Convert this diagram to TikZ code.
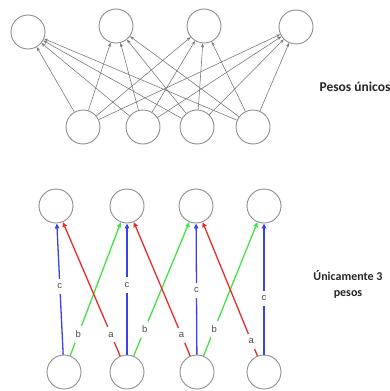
\documentclass[tikz,border=0pt]{standalone}
\usepackage{fontspec}
\newfontfamily\notefont{Carlito}
\newfontfamily\lblfont{Liberation Sans}
\usetikzlibrary{arrows.meta}
\definecolor{neuron}{RGB}{140,140,140}
\definecolor{wire}{RGB}{115,115,115}
\definecolor{wblue}{RGB}{60,65,230}
\definecolor{wred}{RGB}{230,45,45}
\definecolor{wgreen}{RGB}{70,225,70}
\definecolor{lbltext}{RGB}{75,75,75}
\tikzset{
  neuronnode/.style={circle,draw=neuron,line width=0.9pt,minimum size=34pt,inner sep=0pt},
  fullwire/.style={draw=wire,line width=0.55pt,-{Stealth[length=4pt,width=3pt]}},
  sharedwire/.style={line width=1.3pt,-{Triangle[length=5pt,width=4.5pt]}},
  weightlbl/.style={fill=white,text=lbltext,font=\lblfont\fontsize{9.5}{10}\selectfont,inner xsep=1pt,inner ysep=5pt},
  note/.style={font=\notefont\bfseries\selectfont,align=center,text=black!85}
}
\begin{document}
\begin{tikzpicture}[x=1pt,y=-1pt]
\useasboundingbox (0,0) rectangle (390,391);

% fully connected layer
\node[neuronnode] (u1) at (28,32) {};
\node[neuronnode] (u2) at (116,26) {};
\node[neuronnode] (u3) at (204,26) {};
\node[neuronnode] (u4) at (296,27) {};
\node[neuronnode] (l1) at (83,127) {};
\node[neuronnode] (l2) at (143,127) {};
\node[neuronnode] (l3) at (197,127) {};
\node[neuronnode] (l4) at (253,127) {};
\foreach \s in {1,2,3,4}{
  \foreach \t in {1,2,3,4}{
    \draw[fullwire] (l\s) -- (u\t);
  }
}
\node[note,anchor=west,font=\notefont\bfseries\fontsize{13.5}{16}\selectfont] (n1) at (316,87) {Pesos únicos};

% layer with three shared weights
\node[neuronnode] (v1) at (56,206) {};
\node[neuronnode] (v2) at (127,206) {};
\node[neuronnode] (v3) at (196,206) {};
\node[neuronnode] (v4) at (264,206) {};
\node[neuronnode] (w1) at (64,372) {};
\node[neuronnode] (w2) at (127,372) {};
\node[neuronnode] (w3) at (197,372) {};
\node[neuronnode] (w4) at (264,372) {};

\draw[sharedwire,wgreen] (w1) -- node[weightlbl,pos=0.16] {b} (v2);
\draw[sharedwire,wgreen] (w2) -- node[weightlbl,pos=0.2] {b} (v3);
\draw[sharedwire,wgreen] (w3) -- node[weightlbl,pos=0.2] {b} (v4);
\draw[sharedwire,wred] (w2) -- node[weightlbl,pos=0.16] {a} (v1);
\draw[sharedwire,wred] (w3) -- node[weightlbl,pos=0.155] {a} (v2);
\draw[sharedwire,wred] (w4) -- node[weightlbl,pos=0.11] {a} (v3);
\draw[sharedwire,wblue] (w1) -- node[weightlbl,pos=0.52] {c} (v1);
\draw[sharedwire,wblue] (w2) -- node[weightlbl,pos=0.53] {c} (v2);
\draw[sharedwire,wblue] (w3) -- node[weightlbl,pos=0.49] {c} (v3);
\draw[sharedwire,wblue] (w4) -- node[weightlbl,pos=0.43] {c} (v4);

\node[note,font=\notefont\bfseries\fontsize{12}{16}\selectfont] (n2) at (348,284) {Únicamente 3\\pesos};
\end{tikzpicture}
\end{document}
